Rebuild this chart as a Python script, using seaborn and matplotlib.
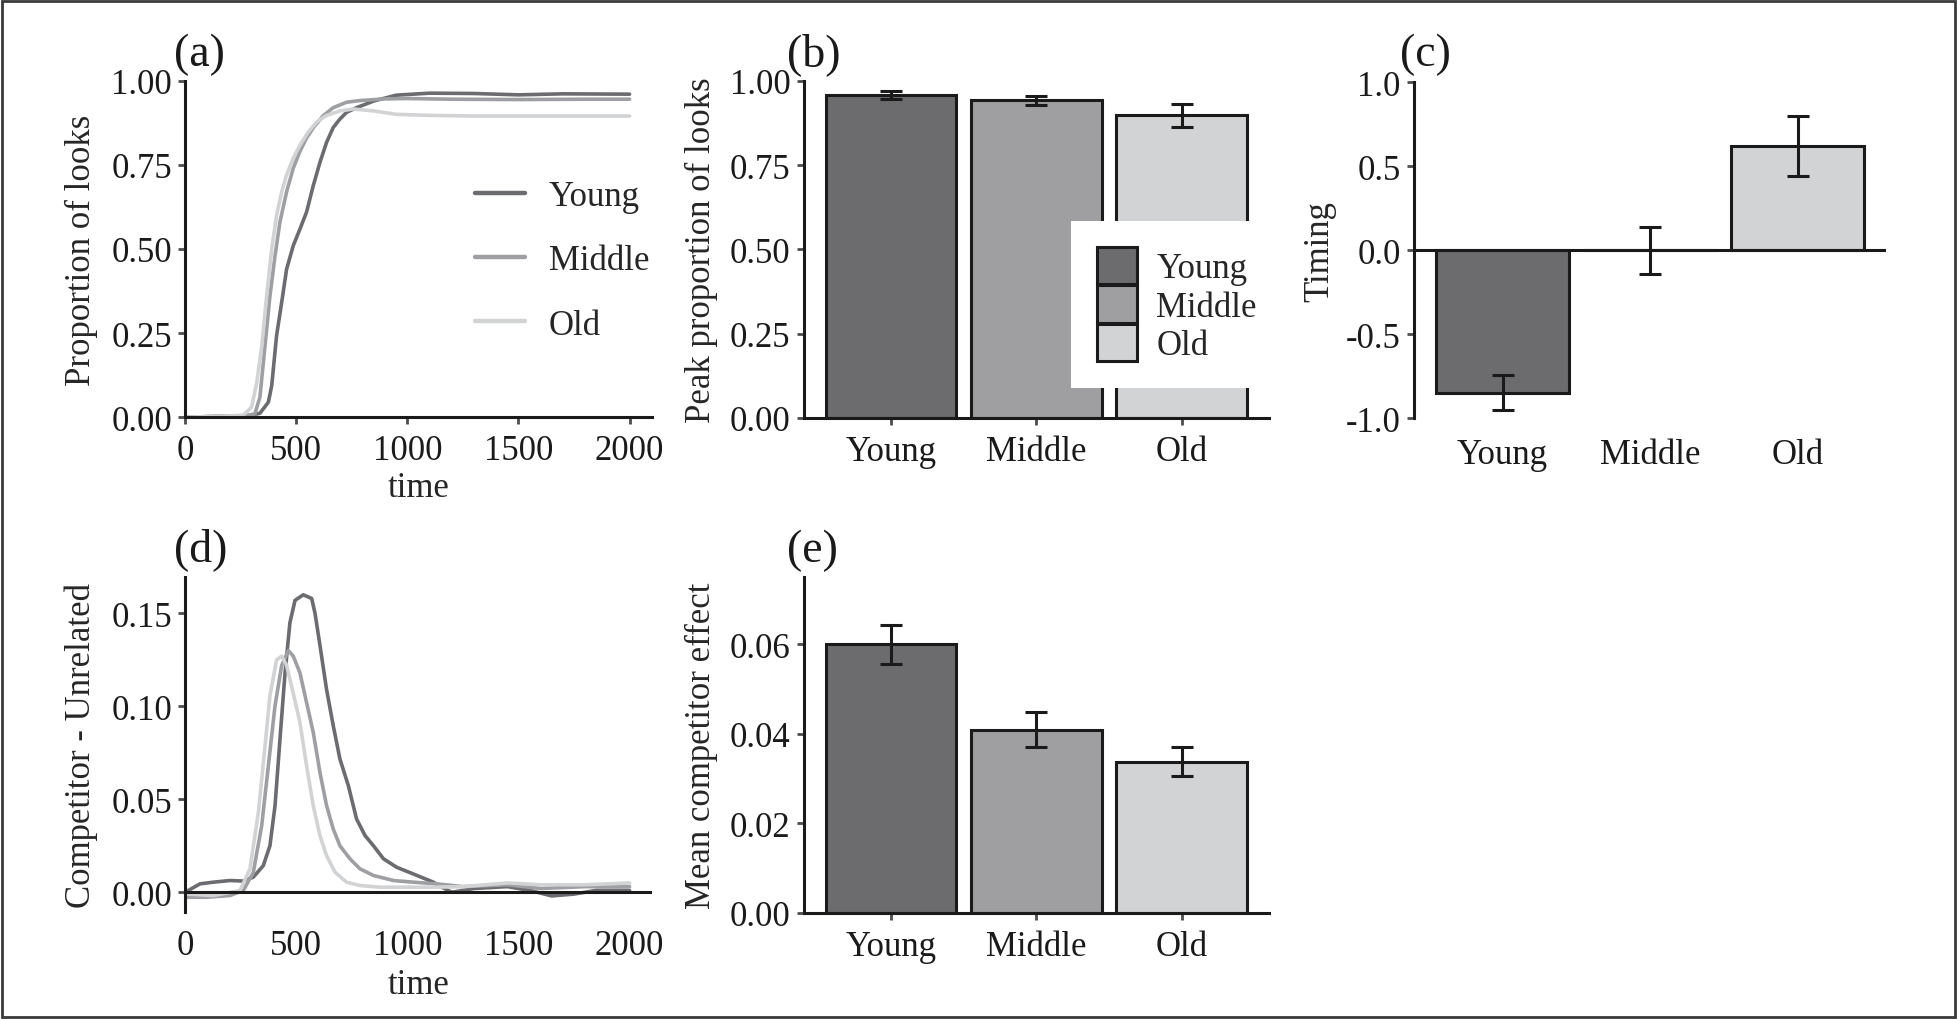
import numpy as np
import pandas as pd
import seaborn as sns
import matplotlib.pyplot as plt
import matplotlib.ticker as ticker

# ---- data ----
groups = ["Young", "Middle", "Old"]
palette = {"Young": "#6b6c70", "Middle": "#9e9fa3", "Old": "#d2d3d5"}

# (a) proportion of looks over time
time_a_young = [0, 150, 284, 336, 374, 389, 411, 434, 456, 486, 516, 546, 576, 606, 636, 666, 696, 726, 771,
                850, 950, 1100, 1300, 1500, 1700, 2000]
looks_young = [0.0, 0.003, 0.005, 0.012, 0.045, 0.094, 0.243, 0.342, 0.44, 0.51, 0.559, 0.61, 0.688, 0.757,
               0.817, 0.861, 0.886, 0.906, 0.92, 0.94, 0.957, 0.963, 0.962, 0.958, 0.961, 0.96]
time_a_middle = [0, 150, 276, 313, 336, 351, 366, 381, 404, 426, 456, 486, 516, 546, 576, 621, 666, 726, 786,
                 900, 1000, 1200, 1500, 1800, 2000]
looks_middle = [0.0, 0.003, 0.005, 0.01, 0.06, 0.16, 0.26, 0.36, 0.48, 0.58, 0.67, 0.74, 0.79, 0.83, 0.86,
                0.896, 0.92, 0.936, 0.941, 0.946, 0.947, 0.945, 0.944, 0.945, 0.945]
time_a_old = [0, 150, 261, 298, 321, 344, 366, 389, 411, 434, 456, 486, 516, 554, 591, 636, 696, 756, 850, 950,
              1100, 1300, 1600, 2000]
looks_old = [0.0, 0.003, 0.006, 0.03, 0.10, 0.21, 0.36, 0.50, 0.60, 0.67, 0.72, 0.77, 0.808, 0.848, 0.877,
             0.897, 0.91, 0.916, 0.91, 0.90, 0.897, 0.895, 0.895, 0.895]

# (b) peak proportion of looks
peak_mean = [0.957, 0.942, 0.897]
peak_err = [0.011, 0.013, 0.035]

# (c) timing
timing_mean = [-0.848, 0.0, 0.62]
timing_err = [0.105, 0.14, 0.18]

# (d) competitor - unrelated over time
time_d_young = [0, 66, 126, 201, 261, 306, 351, 381, 404, 426, 449, 471, 494, 531, 569, 584, 606, 636, 666,
                696, 734, 771, 809, 847, 892, 952, 1027, 1117, 1150, 1200, 1300, 1450, 1550, 1650, 1750, 1850, 2000]
comp_young = [0.0, 0.0045, 0.0054, 0.0063, 0.006, 0.0081, 0.0143, 0.025, 0.0466, 0.082, 0.118, 0.145, 0.157,
              0.160, 0.158, 0.150, 0.133, 0.109, 0.0896, 0.0717, 0.0573, 0.0394, 0.0305, 0.025, 0.018, 0.0134,
              0.0098, 0.0054, 0.003, 0.0, 0.002, 0.003, 0.001, -0.002, -0.001, 0.001, 0.001]
time_d_middle = [0, 96, 201, 261, 306, 344, 374, 404, 434, 464, 486, 516, 546, 576, 606, 636, 666, 696, 741,
                 786, 847, 937, 1027, 1132, 1250, 1450, 1600, 1800, 2000]
comp_middle = [-0.0027, -0.0027, -0.0018, 0.0009, 0.0106, 0.0358, 0.0681, 0.1004, 0.122, 0.130, 0.127, 0.118,
               0.102, 0.086, 0.0645, 0.0466, 0.034, 0.025, 0.018, 0.0126, 0.009, 0.0063, 0.0054, 0.0045, 0.003,
               0.004, 0.002, 0.003, 0.003]
time_d_old = [0, 126, 246, 291, 329, 359, 381, 411, 434, 456, 486, 516, 546, 576, 606, 636, 674, 726, 786, 877,
              997, 1117, 1250, 1450, 1600, 1800, 2000]
comp_old = [-0.0009, -0.0018, 0.0009, 0.0125, 0.043, 0.0788, 0.1057, 0.125, 0.127, 0.122, 0.107, 0.0914, 0.068,
            0.0466, 0.0305, 0.0197, 0.0108, 0.0054, 0.0036, 0.0027, 0.0027, 0.0027, 0.003, 0.005, 0.004, 0.004,
            0.005]

# (e) mean competitor effect
effect_mean = [0.0600, 0.0409, 0.0338]
effect_err = [0.0043, 0.0039, 0.0033]

# ---- style ----
sns.set_theme(style="ticks")
plt.rcParams["font.family"] = ["Liberation Serif", "DejaVu Serif"]
plt.rcParams["axes.unicode_minus"] = False
FS = 25
W, H = 1957, 1020

fig = plt.figure(figsize=(W / 100, H / 100), dpi=100)


def px_axes(left, top, right, bottom):
    return fig.add_axes([left / W, 1 - bottom / H, (right - left) / W, (bottom - top) / H])


def style_axes(ax, bottom_spine=True):
    sns.despine(ax=ax)
    ax.spines["left"].set_linewidth(2.2)
    ax.spines["left"].set_color("#1a1a1a")
    ax.spines["bottom"].set_linewidth(2.2)
    ax.spines["bottom"].set_color("#1a1a1a")
    ax.tick_params(axis="y", labelsize=FS, length=5, width=2, color="#4d4d4d", pad=4.5, labelcolor="#1a1a1a")
    if bottom_spine:
        ax.tick_params(axis="x", labelsize=FS, length=5, width=2, color="#4d4d4d", pad=7, labelcolor="#1a1a1a")
    else:
        ax.spines["bottom"].set_visible(False)
        ax.tick_params(axis="x", labelsize=FS, length=0, pad=13, labelcolor="#1a1a1a")
    ax.set_facecolor("white")


def long_frame(times, values):
    rows = []
    for g in groups:
        for t, v in zip(times[g], values[g]):
            rows.append({"time": t, "value": v, "group": g})
    return pd.DataFrame(rows)


df_a = long_frame({"Young": time_a_young, "Middle": time_a_middle, "Old": time_a_old},
                  {"Young": looks_young, "Middle": looks_middle, "Old": looks_old})
df_d = long_frame({"Young": time_d_young, "Middle": time_d_middle, "Old": time_d_old},
                  {"Young": comp_young, "Middle": comp_middle, "Old": comp_old})

# (a)
ax_a = px_axes(185.3, 81.7, 652, 418.3)
sns.lineplot(data=df_a, x="time", y="value", hue="group", hue_order=groups, palette=palette,
             linewidth=2.6, ax=ax_a)
ax_a.set_xlim(0, 2101)
ax_a.set_ylim(0, 1.0)
ax_a.set_xticks([0, 500, 1000, 1500, 2000])
ax_a.set_yticks([0, 0.25, 0.5, 0.75, 1.0])
ax_a.yaxis.set_major_formatter(ticker.FormatStrFormatter("%.2f"))
style_axes(ax_a)
ax_a.set_xlabel("time", fontsize=FS, va="center")
ax_a.set_ylabel("Proportion of looks", fontsize=FS, va="center")
ax_a.xaxis.set_label_coords(0.5, -0.21)
ax_a.yaxis.set_label_coords(-0.222, 0.5)
h, l = ax_a.get_legend_handles_labels()
leg = ax_a.legend(h, l, loc="center left", bbox_to_anchor=(0.621, 0.465), borderaxespad=0, borderpad=0,
                  frameon=False, fontsize=FS, handlelength=1.44, handletextpad=0.69, labelspacing=0.9)
for line in leg.get_lines():
    line.set_linewidth(3.2)

# (b)
ax_b = px_axes(803.8, 81.7, 1269, 419)
sns.barplot(x=groups, y=peak_mean, hue=groups, palette=palette, order=groups, hue_order=groups,
            edgecolor="#1a1a1a", linewidth=2.2, width=0.9, ax=ax_b, legend=True)
ax_b.errorbar(x=range(3), y=peak_mean, yerr=peak_err, fmt="none", ecolor="#1a1a1a", elinewidth=2.2,
              capsize=8, capthick=2.2)
ax_b.set_xlim(-0.6, 2.6)
ax_b.set_ylim(0, 1.0)
ax_b.set_yticks([0, 0.25, 0.5, 0.75, 1.0])
ax_b.yaxis.set_major_formatter(ticker.FormatStrFormatter("%.2f"))
style_axes(ax_b)
ax_b.set_xlabel("")
ax_b.set_ylabel("Peak proportion of looks", fontsize=FS, va="center")
ax_b.yaxis.set_label_coords(-0.2203, 0.5)
h, l = ax_b.get_legend_handles_labels()
leg_b = ax_b.legend(h, l, loc="upper left", bbox_to_anchor=(0.575, 0.585), borderaxespad=0, borderpad=0.75,
                    frameon=True, facecolor="white", edgecolor="none", framealpha=1, fancybox=False,
                    fontsize=FS, handlelength=1.15, handleheight=1.29, labelspacing=0, handletextpad=0.55)
for p in leg_b.get_patches():
    p.set_edgecolor("#1a1a1a")
    p.set_linewidth(2.2)

# (c)
ax_c = px_axes(1414, 83.3, 1886.5, 419.3)
sns.barplot(x=groups, y=timing_mean, hue=groups, palette=palette, order=groups, hue_order=groups,
            edgecolor="#1a1a1a", linewidth=2.2, width=0.9, ax=ax_c, legend=False)
ax_c.axhline(0, color="#1a1a1a", linewidth=2.2, zorder=1)
ax_c.errorbar(x=range(3), y=timing_mean, yerr=timing_err, fmt="none", ecolor="#1a1a1a", elinewidth=2.2,
              capsize=8, capthick=2.2)
ax_c.set_xlim(-0.6, 2.6)
ax_c.set_ylim(-1.0, 1.0)
ax_c.set_yticks([-1.0, -0.5, 0.0, 0.5, 1.0])
ax_c.yaxis.set_major_formatter(ticker.FormatStrFormatter("%.1f"))
style_axes(ax_c, bottom_spine=False)
ax_c.tick_params(axis="x", pad=14)
ax_c.set_xlabel("")
ax_c.set_ylabel("Timing", fontsize=FS, va="center")
ax_c.yaxis.set_label_coords(-0.199, 0.5)

# (d)
ax_d = px_axes(185.3, 578.3, 652, 913.3)
sns.lineplot(data=df_d, x="time", y="value", hue="group", hue_order=groups, palette=palette,
             linewidth=2.6, ax=ax_d, legend=False)
ax_d.axhline(0, color="#1a1a1a", linewidth=2.2, zorder=3)
ax_d.set_xlim(0, 2101)
ax_d.set_ylim(-0.0108, 0.1694)
ax_d.set_xticks([0, 500, 1000, 1500, 2000])
ax_d.set_yticks([0, 0.05, 0.10, 0.15])
ax_d.yaxis.set_major_formatter(ticker.FormatStrFormatter("%.2f"))
style_axes(ax_d, bottom_spine=False)
ax_d.tick_params(axis="x", pad=12)
ax_d.set_xlabel("time", fontsize=FS, va="center")
ax_d.set_ylabel("Competitor - Unrelated", fontsize=FS, va="center")
ax_d.xaxis.set_label_coords(0.5, -0.215)
ax_d.yaxis.set_label_coords(-0.222, 0.5)

# (e)
ax_e = px_axes(803.8, 578.3, 1269, 914)
sns.barplot(x=groups, y=effect_mean, hue=groups, palette=palette, order=groups, hue_order=groups,
            edgecolor="#1a1a1a", linewidth=2.2, width=0.9, ax=ax_e, legend=False)
ax_e.errorbar(x=range(3), y=effect_mean, yerr=effect_err, fmt="none", ecolor="#1a1a1a", elinewidth=2.2,
              capsize=8, capthick=2.2)
ax_e.set_xlim(-0.6, 2.6)
ax_e.set_ylim(0, 0.075)
ax_e.set_yticks([0, 0.02, 0.04, 0.06])
ax_e.yaxis.set_major_formatter(ticker.FormatStrFormatter("%.2f"))
style_axes(ax_e)
ax_e.set_xlabel("")
ax_e.set_ylabel("Mean competitor effect", fontsize=FS, va="center")
ax_e.yaxis.set_label_coords(-0.2203, 0.5)

# panel letters
for txt, x, y in [("(a)", 174, 55), ("(b)", 787, 55), ("(c)", 1400, 55), ("(d)", 174, 550), ("(e)", 787, 551)]:
    fig.text(x / W, 1 - y / H, txt, fontsize=33, ha="left", va="center", color="#1a1a1a")

# outer frame
fig.add_artist(plt.Rectangle((0.0008, 0.0015), 0.9984, 0.997, transform=fig.transFigure, fill=False,
                             edgecolor="#3a3a3a", linewidth=2))

fig.savefig("out.png", dpi=100, facecolor="white")
